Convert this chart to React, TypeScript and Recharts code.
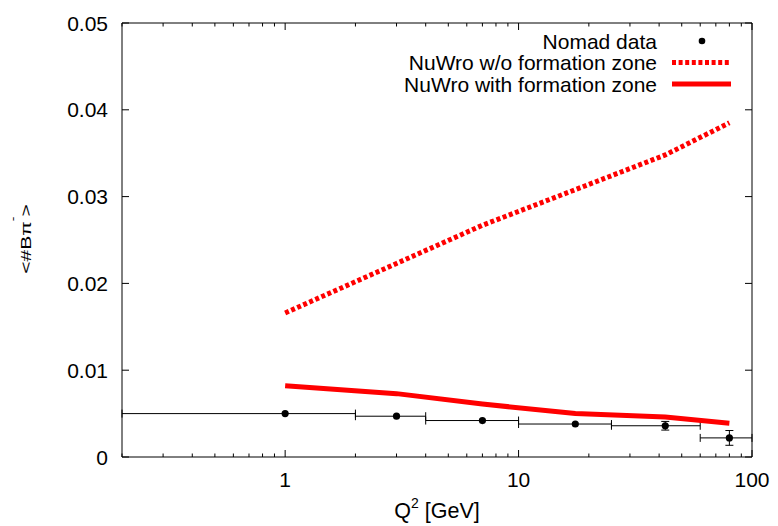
import React from 'react';
import { ComposedChart, Line, Scatter, XAxis, YAxis, ErrorBar, Legend, Label } from 'recharts';

// ---- data ----
const Q2_CENTERS = [1, 3, 7, 17.5, 42.5, 80];
const Q2_LOW_ERR = [0.8, 1, 3, 7.5, 17.5, 20];
const Q2_HIGH_ERR = [1, 1, 3, 7.5, 17.5, 20];
const NOMAD_VALUES = [0.005, 0.0047, 0.0042, 0.0038, 0.0036, 0.0022];
const NOMAD_ERRORS: (number | null)[] = [null, null, null, null, 0.0005, 0.00085];
const NUWRO_NO_FZ = [0.0166, 0.0223, 0.0267, 0.0308, 0.0348, 0.0385];
const NUWRO_WITH_FZ = [0.0082, 0.0073, 0.0061, 0.005, 0.0046, 0.0039];
const Y_TICKS = [0, 0.01, 0.02, 0.03, 0.04, 0.05];
const X_MAJOR_TICKS = [1, 10, 100];
const X_MINOR_TICKS = [0.2, 0.3, 0.4, 0.5, 0.6, 0.7, 0.8, 0.9, 2, 3, 4, 5, 6, 7, 8, 9, 20, 30, 40, 50, 60, 70, 80, 90];
const LEGEND_LABELS = ['Nomad data', 'NuWro w/o formation zone', 'NuWro with formation zone'];
const X_TITLE_MAIN = 'Q';
const X_TITLE_SUP = '2';
const X_TITLE_REST = ' [GeV]';
const Y_TITLE_MAIN = '<#B\u03c0';
const Y_TITLE_SUP = '-';
const Y_TITLE_END = '>';

const nomadData = Q2_CENTERS.map((x, i) => ({
  x,
  y: NOMAD_VALUES[i],
  ex: [Q2_LOW_ERR[i], Q2_HIGH_ERR[i]],
  ey: NOMAD_ERRORS[i],
}));
const noFzData = Q2_CENTERS.map((x, i) => ({ x, y: NUWRO_NO_FZ[i] }));
const withFzData = Q2_CENTERS.map((x, i) => ({ x, y: NUWRO_WITH_FZ[i] }));
const X_ALL_TICKS = [...X_MINOR_TICKS, ...X_MAJOR_TICKS].sort((a, b) => a - b);

const FONT = '"Liberation Sans", Arial, Helvetica, sans-serif';
const RED = '#ff0000';

const fmtY = (v: number) => (v === 0 ? '0' : v.toFixed(2));
const isMajor = (v: number) => X_MAJOR_TICKS.includes(v);

const LeftTick = (props: any) => {
  const { x, y, payload } = props;
  return (
    <g>
      <line x1={x} x2={x + 7} y1={y} y2={y} stroke="#000" strokeWidth={1} />
      <text x={x - 14} y={y} dy="0.36em" textAnchor="end" fontSize={21} fontFamily={FONT} fill="#000">
        {fmtY(payload.value)}
      </text>
    </g>
  );
};

const RightTick = (props: any) => {
  const { x, y } = props;
  return <line x1={x - 7} x2={x} y1={y} y2={y} stroke="#000" strokeWidth={1} />;
};

const BottomTick = (props: any) => {
  const { x, y, payload } = props;
  const major = isMajor(payload.value);
  return (
    <g>
      <line x1={x} x2={x} y1={y} y2={y - (major ? 7 : 3.5)} stroke="#000" strokeWidth={1} />
      {major && (
        <text x={x} y={y + 30} textAnchor="middle" fontSize={21} fontFamily={FONT} fill="#000">
          {String(payload.value)}
        </text>
      )}
    </g>
  );
};

const TopTick = (props: any) => {
  const { x, y, payload } = props;
  const major = isMajor(payload.value);
  return <line x1={x} x2={x} y1={y} y2={y + (major ? 7 : 3.5)} stroke="#000" strokeWidth={1} />;
};

const XTitle = (props: any) => {
  const vb = props.viewBox || { x: 122, width: 630, y: 457 };
  const cx = vb.x + vb.width / 2;
  return (
    <text x={cx} y={518} textAnchor="middle" fontSize={21.5} fontFamily={FONT} fill="#000">
      {X_TITLE_MAIN}
      <tspan dy={-10} fontSize={14}>{X_TITLE_SUP}</tspan>
      <tspan dy={10}>{X_TITLE_REST}</tspan>
    </text>
  );
};

const YTitle = (props: any) => {
  const vb = props.viewBox || { y: 23, height: 434 };
  const cy = vb.y + vb.height / 2;
  return (
    <text
      transform={`translate(31,${cy - 1}) rotate(-90) scale(1,0.72)`}
      x={0}
      y={0}
      textAnchor="middle"
      fontSize={21}
      fontFamily={FONT}
      fill="#000"
    >
      {Y_TITLE_MAIN}
      <tspan dy={-21} fontSize={14}>{Y_TITLE_SUP}</tspan>
      <tspan dy={21}>{Y_TITLE_END}</tspan>
    </text>
  );
};

const LegendContent = () => {
  const rows = [41, 62.5, 84];
  return (
    <svg width={778} height={110} style={{ display: 'block' }}>
      {LEGEND_LABELS.map((t, i) => (
        <text key={t} x={657} y={rows[i]} dy="0.36em" textAnchor="end" fontSize={21} fontFamily={FONT} fill="#000">
          {t}
        </text>
      ))}
      <circle cx={702} cy={rows[0]} r={3.3} fill="#000" />
      <line x1={672} x2={731} y1={rows[1]} y2={rows[1]} stroke={RED} strokeWidth={5} strokeDasharray="4 2.6" />
      <line x1={672} x2={731} y1={rows[2]} y2={rows[2]} stroke={RED} strokeWidth={5} />
    </svg>
  );
};

const Dot = (p: any) => <circle cx={p.cx} cy={p.cy} r={3.6} fill="#000" />;

export default function App() {
  return (
    <div style={{ position: 'absolute', left: 0, top: 0, width: 778, height: 526, background: '#fff' }}>
      <ComposedChart
        width={778}
        height={526}
        margin={{ top: 0, right: 0, bottom: 0, left: 0 }}
        style={{ fontFamily: FONT }}
      >
        <XAxis
          xAxisId="b"
          dataKey="x"
          type="number"
          scale="log"
          domain={[0.2, 100]}
          allowDataOverflow
          ticks={X_ALL_TICKS}
          interval={0}
          tick={<BottomTick />}
          tickLine={false}
          tickSize={0}
          tickMargin={0}
          height={69}
          orientation="bottom"
          axisLine={{ stroke: '#000', strokeWidth: 1 }}
        >
          <Label content={<XTitle />} />
        </XAxis>
        <XAxis
          xAxisId="t"
          dataKey="x"
          type="number"
          scale="log"
          domain={[0.2, 100]}
          allowDataOverflow
          ticks={X_ALL_TICKS}
          interval={0}
          tick={<TopTick />}
          tickLine={false}
          tickSize={0}
          tickMargin={0}
          height={23}
          orientation="top"
          axisLine={{ stroke: '#000', strokeWidth: 1 }}
        />
        <YAxis
          yAxisId="l"
          type="number"
          domain={[0, 0.05]}
          allowDataOverflow
          ticks={Y_TICKS}
          interval={0}
          tick={<LeftTick />}
          tickLine={false}
          tickSize={0}
          tickMargin={0}
          width={122}
          orientation="left"
          axisLine={{ stroke: '#000', strokeWidth: 1 }}
        >
          <Label content={<YTitle />} />
        </YAxis>
        <YAxis
          yAxisId="r"
          type="number"
          domain={[0, 0.05]}
          allowDataOverflow
          ticks={Y_TICKS}
          interval={0}
          tick={<RightTick />}
          tickLine={false}
          tickSize={0}
          tickMargin={0}
          width={26}
          orientation="right"
          axisLine={{ stroke: '#000', strokeWidth: 1 }}
        />
        <Legend
          layout="horizontal"
          verticalAlign="middle"
          align="center"
          content={<LegendContent />}
          wrapperStyle={{ left: 0, top: 0, width: 778, height: 110, pointerEvents: 'none' }}
        />
        <Scatter
          xAxisId="b"
          yAxisId="l"
          data={nomadData}
          dataKey="y"
          fill="#000"
          shape={<Dot />}
          isAnimationActive={false}
          legendType="none"
        >
          <ErrorBar dataKey="ex" direction="x" width={4} stroke="#000" strokeWidth={1} />
          <ErrorBar dataKey="ey" direction="y" width={4} stroke="#000" strokeWidth={1} />
        </Scatter>
        <Line
          xAxisId="b"
          yAxisId="l"
          data={noFzData}
          dataKey="y"
          type="linear"
          stroke={RED}
          strokeWidth={5}
          strokeDasharray="4 2.6"
          dot={false}
          activeDot={false}
          isAnimationActive={false}
        />
        <Line
          xAxisId="b"
          yAxisId="l"
          data={withFzData}
          dataKey="y"
          type="linear"
          stroke={RED}
          strokeWidth={5}
          dot={false}
          activeDot={false}
          isAnimationActive={false}
        />
      </ComposedChart>
    </div>
  );
}
